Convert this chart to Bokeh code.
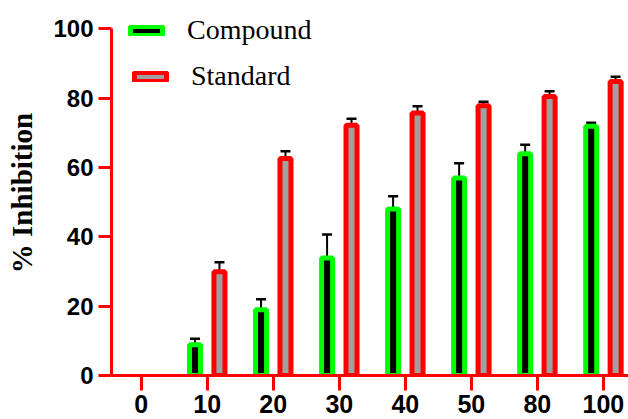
from bokeh.plotting import figure
from bokeh.models import Range1d, FixedTicker, ColumnDataSource, Whisker, Legend, LegendItem, TeeHead
from bokeh.transform import dodge
from bokeh.embed import file_html
from bokeh.resources import INLINE

# ---- data ----
categories = ["0", "10", "20", "30", "40", "50", "80", "100"]
compound = [0, 8.9, 19.0, 33.9, 48.0, 57.0, 64.0, 71.9]
compound_err = [0, 1.7, 3.0, 6.8, 3.7, 4.2, 2.6, 1.0]
standard = [0, 29.9, 62.6, 72.2, 75.7, 77.8, 80.5, 84.8]
standard_err = [0, 2.8, 2.1, 1.9, 2.0, 1.2, 1.5, 1.4]
y_ticks = [0, 20, 40, 60, 80, 100]

RED = "#FF0000"
GREEN = "#00FF00"
GRAY = "#A0A0A0"


def make_source(vals, errs):
    idx = [i for i, v in enumerate(vals) if v > 0]
    return ColumnDataSource(dict(
        x=idx,
        top=[vals[i] for i in idx],
        upper=[vals[i] + errs[i] for i in idx],
    ))


src_c = make_source(compound, compound_err)
src_s = make_source(standard, standard_err)

p = figure(width=628, height=419, output_backend="svg", toolbar_location=None,
           x_range=Range1d(-0.45, 7.38), y_range=Range1d(0, 105.3),
           min_border_left=111, min_border_right=0, min_border_top=10,
           min_border_bottom=44)
p.background_fill_color = "white"
p.border_fill_color = "white"
p.outline_line_color = None
p.grid.visible = False

OFF = 0.185
BW = 0.167

for src, off in [(src_c, -OFF), (src_s, OFF)]:
    w = Whisker(source=src, base=dodge("x", off, range=p.x_range), lower="top", upper="upper",
                dimension="height", line_color="black", line_width=2,
                upper_head=TeeHead(size=10, line_width=2.5, line_color="black"),
                lower_head=None, level="underlay")
    p.add_layout(w)

r_c = p.vbar(x=dodge("x", -OFF, range=p.x_range), top="top", bottom=0, width=BW, source=src_c,
             fill_color="black", line_color=GREEN, line_width=5)
r_s = p.vbar(x=dodge("x", OFF, range=p.x_range), top="top", bottom=0, width=BW, source=src_s,
             fill_color=GRAY, line_color=RED, line_width=5)

# axes
for ax in (p.xaxis[0], p.yaxis[0]):
    ax.axis_line_color = RED
    ax.axis_line_width = 3
    ax.major_tick_line_color = RED
    ax.major_tick_line_width = 3
    ax.major_tick_in = 0
    ax.minor_tick_line_color = None
    ax.major_label_text_font = "Liberation Sans"
    ax.major_label_text_font_style = "bold"
    ax.major_label_text_font_size = "24px"
    ax.major_label_text_color = "black"

p.xaxis.ticker = FixedTicker(ticks=list(range(len(categories))))
p.xaxis.major_label_overrides = {i: c for i, c in enumerate(categories)}
p.xaxis.major_tick_out = 15
p.xaxis.major_label_standoff = 4
p.xaxis.major_label_text_font_size = "25px"

p.yaxis.ticker = FixedTicker(ticks=y_ticks)
p.yaxis.bounds = (0, 100)
p.yaxis.major_tick_out = 13
p.yaxis.major_label_standoff = 5
p.yaxis.axis_label = "% Inhibition"
p.yaxis.axis_label_text_font = "Liberation Serif"
p.yaxis.axis_label_text_font_style = "bold"
p.yaxis.axis_label_text_font_size = "29px"
p.yaxis.axis_label_text_color = "black"
p.yaxis.axis_label_standoff = 12

for item, loc in [(LegendItem(label="Compound", renderers=[r_c]), (15, 329)),
                  (LegendItem(label="Standard", renderers=[r_s]), (19, 283))]:
    lg = Legend(items=[item], location=loc, glyph_width=40, glyph_height=11,
                label_text_font="Liberation Serif", label_text_font_size="28px",
                label_standoff=21, padding=0, margin=0, border_line_color=None,
                background_fill_alpha=0, label_text_color="black")
    p.add_layout(lg, "center")

open("out.html", "w").write(file_html(p, INLINE))
